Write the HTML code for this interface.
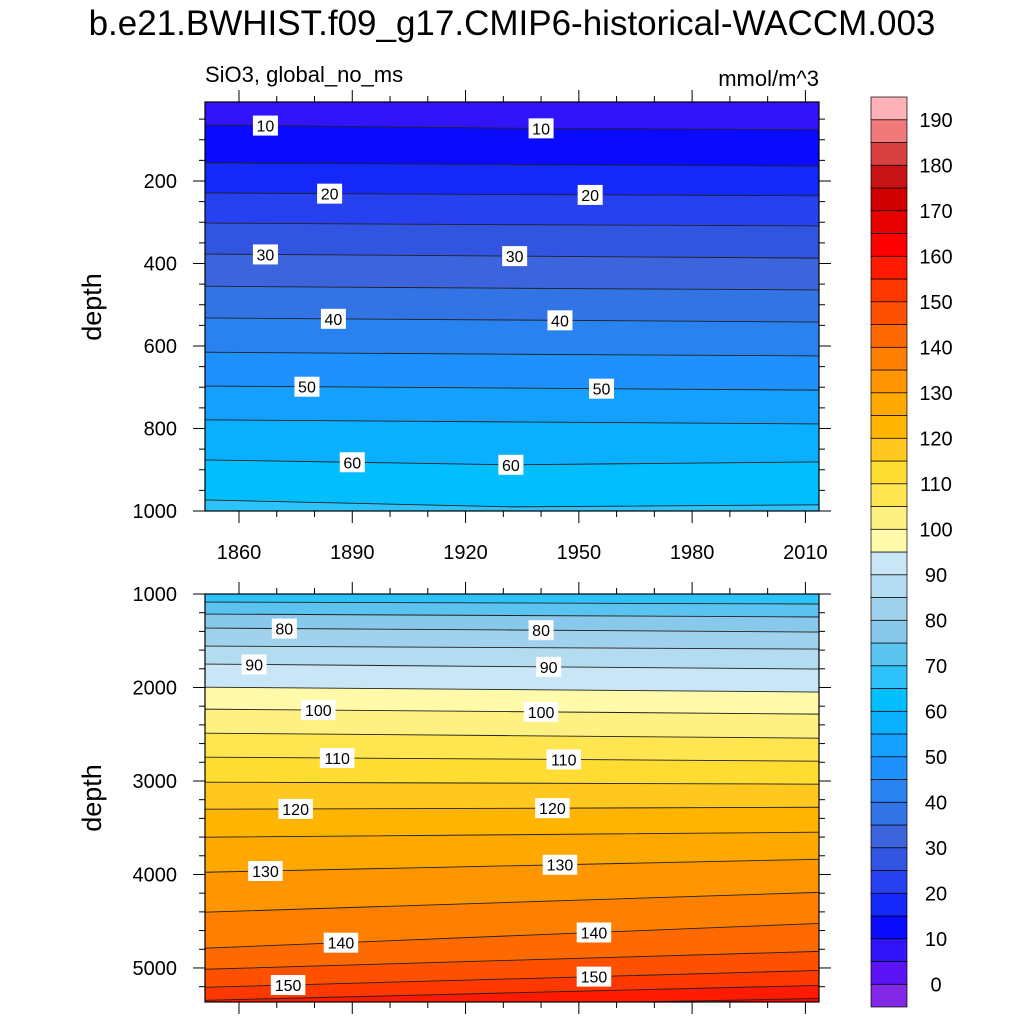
<!DOCTYPE html>
<html><head><meta charset="utf-8">
<style>
html,body{margin:0;padding:0;background:#fff;}
svg{display:block;font-family:"Liberation Sans",sans-serif;}
</style></head>
<body>
<svg id="chart" width="1024" height="1024" viewBox="0 0 1024 1024">
<text x="512" y="35" font-size="35" text-anchor="middle">b.e21.BWHIST.f09_g17.CMIP6-historical-WACCM.003</text>
<text x="205" y="82" font-size="22">SiO3, global_no_ms</text>
<text x="819" y="86" font-size="22" text-anchor="end">mmol/m^3</text>
<text transform="translate(101,307) rotate(-90)" font-size="27" text-anchor="middle">depth</text>
<text transform="translate(101,798) rotate(-90)" font-size="27" text-anchor="middle">depth</text>
<g id="layer"></g>
</svg>
<script>
// ---- data ----
const years = [1850, 1932, 2014];
const topLevels = [10,15,20,25,30,35,40,45,50,55,60,65];
const topDepths = [
 [64,72,76],[156,160,164],[229,233,236],[302,306,309],[377,382,387],[455,460,464],
 [532,537,542],[615,620,624],[697,702,707],[779,784,789],[876,888,881],[973,990,985]];
const botLevels = [70,75,80,85,90,95,100,105,110,115,120,125,130,135,140,145,150,155,160];
const botDepths = [
 [1086,1096,1107],[1214,1230,1246],[1364,1385,1407],[1557,1573,1589],[1749,1776,1803],
 [1996,2022,2049],[2231,2258,2285],[2488,2515,2542],[2745,2766,2788],[3013,3023,3034],
 [3302,3292,3281],[3602,3575,3548],[3977,3907,3837],[4405,4298,4191],[4790,4656,4523],
 [5015,4918,4822],[5208,5117,5026],[5347,5266,5186],[5454,5390,5326]];
const topLabelLevels = [10,10,20,20,30,30,40,40,50,50,60,60];
const topLabelYears = [1867,1940,1884,1953,1867,1933,1885,1945,1878,1956,1890,1932];
const botLabelLevels = [80,80,90,90,100,100,110,110,120,120,130,130,140,140,150,150];
const botLabelYears = [1872,1940,1864,1942,1881,1940,1886,1946,1875,1943,1867,1945,1887,1954,1873,1954];
const cbLevels = [];
for (let v = 0; v <= 190; v += 5) cbLevels.push(v);
const cbColors = ["#8228E6","#5A14F5","#3214FA","#0A0AFF","#1428FA","#2841F0","#3255E1","#3C64DC",
 "#3273E6","#2882F0","#1E91FF","#14A0FF","#0AAFFF","#00BEFF","#2DC3FA","#5AC3F0","#87C8EB",
 "#A0D2EE","#B4DCF0","#C8E6F5","#FFFAAA","#FFF082","#FFE650","#FFDC32","#FFC81E","#FFB400",
 "#FFA800","#FF9600","#FF8000","#FF6A00","#FF5000","#FF3800","#FF1A00","#FF0000","#E60000",
 "#D00000","#C81414","#D94040","#F07A7A","#FFB3B8"];
const xTicks = [1860,1890,1920,1950,1980,2010];
const topYTicks = [200,400,600,800,1000];
const botYTicks = [1000,2000,3000,4000,5000];

// ---- layout ----
const NS = "http://www.w3.org/2000/svg";
const layer = document.getElementById('layer');
function mk(tag, attrs, parent) {
  const e = document.createElementNS(NS, tag);
  for (const k in attrs) e.setAttribute(k, attrs[k]);
  (parent || layer).appendChild(e);
  return e;
}
const X0 = 205, X1 = 819, YR0 = 1851, YR1 = 2013.6;
const xs = y => X0 + (y - YR0) / (YR1 - YR0) * (X1 - X0);
const panels = [
  {name:'top', y0:102, y1:511, d0:8.5, d1:1000, levels:topLevels, depths:topDepths,
   yTicks:topYTicks, minor:50, labelX:true, lLev:topLabelLevels, lYr:topLabelYears},
  {name:'bottom', y0:594, y1:1002, d0:1000, d1:5364, levels:botLevels, depths:botDepths,
   yTicks:botYTicks, minor:200, labelX:false, lLev:botLabelLevels, lYr:botLabelYears}
];
function colorFor(v){ const i = Math.floor(v/5)+1; return cbColors[Math.max(0,Math.min(cbColors.length-1,i))]; }
function depthAt(row, yr){
  for (let i=0;i<years.length-1;i++){
    if (yr <= years[i+1] || i===years.length-2){
      const t=(yr-years[i])/(years[i+1]-years[i]); return row[i]+(row[i+1]-row[i])*t;
    }
  }
}
panels.forEach(p => {
  const ys = d => p.y0 + (d - p.d0) / (p.d1 - p.d0) * (p.y1 - p.y0);
  const g = mk('g', {});
  
  
  const clipId = 'clip-' + p.name;
  const cp = mk('clipPath', {id: clipId}, g);
  mk('rect', {x:X0, y:p.y0, width:X1-X0, height:p.y1-p.y0}, cp);
  const fg = mk('g', {'clip-path':'url(#'+clipId+')'}, g);
  const bg = mk('rect', {x:X0, y:p.y0, width:X1-X0, height:p.y1-p.y0, fill:colorFor(p.levels[0]-1)}, fg);
  
  
  const pts = row => years.map((yr,i)=>[xs(yr), ys(row[i])]);
  p.levels.forEach((lev, li) => {
    const top = pts(p.depths[li]);
    const d = 'M'+(X0-5)+','+top[0][1]+' L'+top.map(q=>q.join(',')).join(' L')+' L'+(X1+5)+','+top[top.length-1][1]+' L'+(X1+5)+','+(p.y1+30)+' L'+(X0-5)+','+(p.y1+30)+' Z';
    const band = mk('path', {d:d, fill:colorFor(lev)}, fg);
    
    
  });
  p.levels.forEach((lev, li) => {
    const top = pts(p.depths[li]);
    const ln = mk('polyline', {points:(X0-5)+','+top[0][1]+' '+top.map(q=>q.join(',')).join(' ')+' '+(X1+5)+','+top[top.length-1][1], fill:'none', stroke:'#222', 'stroke-width':0.9}, fg);
    
    
  });
  p.lLev.forEach((lev, i) => {
    const li = p.levels.indexOf(lev);
    const yr = p.lYr[i];
    const cx = xs(yr), cy = ys(depthAt(p.depths[li], yr));
    const w = String(lev).length*9.5+6;
    const r = mk('rect', {x:cx-w/2, y:cy-10, width:w, height:20, fill:'#fff'}, fg);
    
    
    const t = mk('text', {x:cx, y:cy+6, 'font-size':16, 'text-anchor':'middle'}, fg);
    t.textContent = lev;
    
    
  });
  const fr = mk('rect', {x:X0, y:p.y0, width:X1-X0, height:p.y1-p.y0, fill:'none', stroke:'#000', 'stroke-width':1.2}, g);
  
  
  for (let yr=1860; yr<=2010; yr+=10){
    const major = (yr-1860)%30===0, L = major?12:6, x=xs(yr);
    mk('line',{x1:x,x2:x,y1:p.y1,y2:p.y1+L,stroke:'#000','stroke-width':1},g);
    mk('line',{x1:x,x2:x,y1:p.y0,y2:p.y0-L,stroke:'#000','stroke-width':1},g);
  }
  if (p.labelX) xTicks.forEach(yr=>{
    const t = mk('text',{x:xs(yr),y:p.y1+48,'font-size':20,'text-anchor':'middle'},g);
    t.textContent = yr;
    
    
  });
  for (let d=Math.ceil(p.d0/p.minor)*p.minor; d<=p.d1; d+=p.minor){
    const major = p.yTicks.indexOf(d)>=0, L = major?12:6, y=ys(d);
    mk('line',{x1:X0,x2:X0-L,y1:y,y2:y,stroke:'#000','stroke-width':1},g);
    mk('line',{x1:X1,x2:X1+L,y1:y,y2:y,stroke:'#000','stroke-width':1},g);
  }
  p.yTicks.forEach(d=>{
    const t = mk('text',{x:177,y:ys(d)+7,'font-size':20,'text-anchor':'end'},g);
    t.textContent = d;
    
    
  });
});
const CB_X = 871, CB_W = 36, CB_TOP = 97, CB_BOT = 1007;
const boxH = (CB_BOT-CB_TOP)/cbColors.length;
const cb = mk('g', {});


cbColors.forEach((c,i)=>{
  const r = mk('rect',{x:CB_X,y:CB_BOT-(i+1)*boxH,width:CB_W,height:boxH,fill:c,stroke:'#000','stroke-width':0.7},cb);
  
  
});
cbLevels.forEach((v,i)=>{
  if (v%10!==0) return;
  const y = CB_BOT-(i+1)*boxH;
  const t = mk('text',{x:936,y:y+7,'font-size':20,'text-anchor':'middle'},cb);
  t.textContent = v;
  
  
});
</script>
</body></html>
